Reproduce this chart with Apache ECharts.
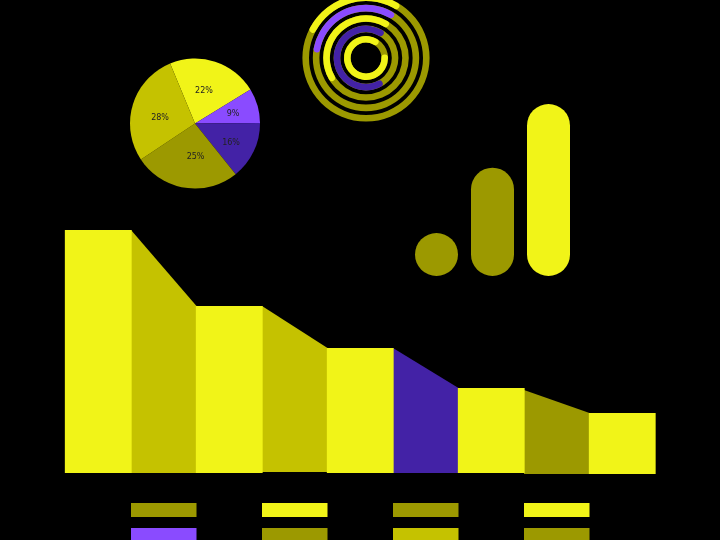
<!DOCTYPE html>
<html>
<head>
<meta charset="utf-8">
<style>html,body{margin:0;padding:0;background:#000}#c{width:720px;height:540px}</style>
<script src="https://cdn.jsdelivr.net/npm/echarts@6/dist/echarts.min.js"></script>
</head>
<body>
<div id="c"></div>
<script>
var YELLOW = '#f1f418', MID = '#c5c200', OLIVE = '#9c9900', VIOLET = '#8a4bff', INDIGO = '#4322a6';

// stepped flow chart: level at the start and end of each slot, and its base
var flowSlots = ['a','b','c','d','e','f','g','h','i'];
var flowStart = [100, 100, 68.7, 68.7, 51.4, 51.4, 35, 34.2, 24.7];
var flowEnd   = [100, 68.7, 68.7, 51.4, 51.4, 35, 35, 24.7, 24.7];
var flowBase  = [0, 0, 0, 0.4, 0, 0, 0, -0.4, -0.4];
var flowColors = [YELLOW, MID, YELLOW, MID, YELLOW, INDIGO, YELLOW, OLIVE, YELLOW];

// swatch rows below the flow chart
var swatchSlots = ['b','d','f','h'];
var swatchRows = ['r1','r2'];
var swatchRow1 = [OLIVE, YELLOW, OLIVE, YELLOW];
var swatchRow2 = [VIOLET, OLIVE, MID, OLIVE];

// pie
var pieLabels = ['22%', '9%', '16%', '25%', '28%'];
var pieValues = [22.5, 8.6, 14.4, 26.4, 28.1];
var pieColors = [YELLOW, VIOLET, INDIGO, OLIVE, MID];

// concentric rings, inner to outer
var ringNames = ['r1','r2','r3','r4','r5'];
var ringValues = [83.5, 66, 41.7, 30.5, 25.5];
var ringColors = [YELLOW, INDIGO, YELLOW, VIOLET, YELLOW];

// rounded columns
var pillNames = ['p1','p2','p3'];
var pillValues = [25, 63, 100];
var pillColors = [OLIVE, OLIVE, YELLOW];

var flowData = flowSlots.map(function (s, i) { return [i, flowStart[i], flowEnd[i], flowBase[i]]; });
var swatchData = [];
swatchSlots.forEach(function (s, i) {
  swatchData.push([s, swatchRows[0], swatchRow1[i]]);
  swatchData.push([s, swatchRows[1], swatchRow2[i]]);
});
var labelNudge = [[-2, 1], [4, 0], [4, 4], [6, -2], [-1, 5]];

var chart = echarts.init(document.getElementById('c'), null, {renderer: 'canvas'});
chart.setOption({
  backgroundColor: '#000',
  animation: false,
  grid: [
    {left: 65.5, width: 589.5, top: 230, height: 243, outerBoundsMode: 'none'},
    {left: 65.5, width: 589.5, top: 497.5, height: 50, outerBoundsMode: 'none'},
    {left: 408.5, width: 168, top: 104, height: 172, outerBoundsMode: 'none'}
  ],
  xAxis: [
    {gridIndex: 0, type: 'category', data: flowSlots, show: false},
    {gridIndex: 1, type: 'category', data: flowSlots, show: false},
    {gridIndex: 2, type: 'category', data: pillNames, show: false}
  ],
  yAxis: [
    {gridIndex: 0, type: 'value', min: 0, max: 100, show: false},
    {gridIndex: 1, type: 'category', data: swatchRows, inverse: true, show: false},
    {gridIndex: 2, type: 'value', min: 0, max: 100, show: false}
  ],
  polar: {center: [366, 58], radius: [13.5, 65.5]},
  angleAxis: {type: 'value', min: 0, max: 100, startAngle: 60, clockwise: false, show: false},
  radiusAxis: {type: 'category', data: ringNames, show: false},
  series: [
    {
      type: 'custom', xAxisIndex: 0, yAxisIndex: 0, clip: false, data: flowData,
      encode: {x: 0, y: [1, 2, 3]},
      renderItem: function (params, api) {
        var i = api.value(0), band = api.size([1, 0])[0];
        var flat = api.value(1) === api.value(2);
        var half = band / 2 * (flat ? 1.02 : 1);
        var c = api.coord([i, api.value(1)]), e = api.coord([i, api.value(2)]), b = api.coord([i, api.value(3)]);
        return {type: 'polygon', z2: flat ? 2 : 1, shape: {points: [
          [c[0] - half, c[1]], [c[0] + half, e[1]], [c[0] + half, b[1]], [c[0] - half, b[1]]
        ]}, style: {fill: flowColors[i]}};
      }
    },
    {
      type: 'custom', xAxisIndex: 1, yAxisIndex: 1, clip: false, data: swatchData,
      encode: {x: 0, y: 1},
      renderItem: function (params, api) {
        var p = api.coord([api.value(0), api.value(1)]);
        var s = api.size([1, 1]);
        return {type: 'rect', shape: {x: p[0] - s[0] / 2, y: p[1] - s[1] * 0.28, width: s[0], height: s[1] * 0.56},
          style: {fill: swatchData[params.dataIndex][2]}};
      }
    },
    {
      type: 'bar', xAxisIndex: 2, yAxisIndex: 2, barWidth: 43,
      data: pillValues.map(function (v, i) {
        return {value: v, itemStyle: {color: pillColors[i], borderRadius: 21.5}};
      })
    },
    {
      type: 'pie', center: [195, 123.5], radius: 65, startAngle: 112.5, clockwise: true,
      data: pieValues.map(function (v, i) {
        return {value: v, name: pieLabels[i], itemStyle: {color: pieColors[i]}, label: {offset: labelNudge[i]}};
      }),
      label: {position: 'inside', formatter: '{b}', color: '#222', fontSize: 8, fontFamily: 'DejaVu Sans'},
      labelLine: {show: false}
    },
    {
      type: 'bar', coordinateSystem: 'polar', barWidth: 6.6, roundCap: true,
      showBackground: true, backgroundStyle: {color: OLIVE},
      data: ringValues.map(function (v, i) {
        return {value: v, itemStyle: {color: ringColors[i]}};
      })
    }
  ]
});
</script>
</body>
</html>
